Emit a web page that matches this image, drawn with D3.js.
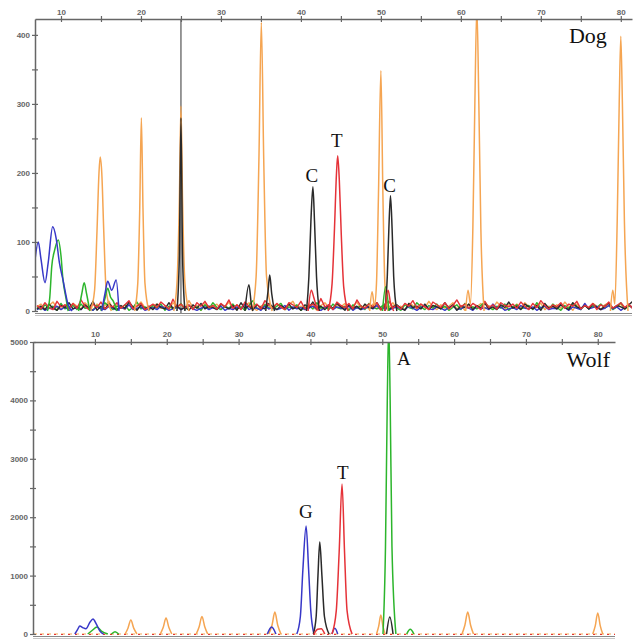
<!DOCTYPE html>
<html>
<head>
<meta charset="utf-8">
<script src="https://cdn.jsdelivr.net/npm/d3@7"></script>
<style>
	body { margin: 0; background: #fff; }
	svg { display: block; }
	.tick text { font-family: "Liberation Sans", Arial, sans-serif; font-size: 8px; font-weight: bold; fill: #666; }
	.tick line, .domain { stroke: #666; }
	.lbl { font-family: "Liberation Serif", "Times New Roman", serif; fill: #111; }
</style>
</head>
<body>
<div id="viz"></div>
<script>
// ---- axis ticks ----
const xMajor = [10, 20, 30, 40, 50, 60, 70, 80];
const xMinor = [15, 25, 35, 45, 55, 65, 75];
const dogYMajor = [0, 100, 200, 300, 400];
const dogYMinor = [50, 150, 250, 350];
const wolfYMajor = [0, 1000, 2000, 3000, 4000, 5000];
const wolfYMinor = [500, 1500, 2500, 3500, 4500];

// ---- Dog: peaks, [position, height] ----
const dogOrange = [
	[[13.7, 0], [14.2, 30], [14.5, 115], [14.75, 200], [14.9, 223], [15.1, 200], [15.35, 115], [15.65, 30], [16.3, 0]],
	[[19.2, 0], [19.6, 40], [19.85, 150], [20.05, 280], [20.25, 150], [20.5, 40], [21.0, 0]],
	[[24.1, 0], [24.5, 40], [24.8, 160], [25.0, 297], [25.2, 160], [25.5, 40], [26.0, 0]],
	[[33.9, 0], [34.4, 50], [34.75, 220], [35.05, 418], [35.35, 220], [35.7, 50], [36.4, 0]],
	[[48.6, 0], [48.9, 28], [49.2, 8], [49.45, 40], [49.7, 170], [50.0, 348], [50.25, 170], [50.5, 40], [50.9, 0]],
	[[60.6, 0], [60.9, 30], [61.2, 10], [61.5, 120], [61.75, 300], [62.0, 440], [62.25, 300], [62.5, 120], [62.9, 0]],
	[[78.7, 0], [79.0, 30], [79.25, 10], [79.55, 130], [79.8, 300], [80.0, 398], [80.2, 300], [80.45, 130], [80.9, 0]]
];
const dogBlack = [
	[[24.5, 0], [24.8, 80], [25.0, 280], [25.2, 80], [25.5, 0]],
	[[33.0, 0], [33.5, 38], [33.8, 10], [34.0, 0]],
	[[35.6, 0], [35.9, 30], [36.1, 52], [36.35, 25], [36.7, 0]],
	[[40.7, 0], [41.0, 50], [41.25, 130], [41.5, 180], [41.7, 130], [41.95, 50], [42.3, 0]],
	[[50.5, 0], [50.8, 50], [51.0, 120], [51.2, 167], [51.4, 120], [51.6, 50], [52.0, 0]]
];
const dogRed = [
	[[40.9, 0], [41.3, 30], [41.6, 20], [41.9, 8], [42.2, 0]],
	[[43.4, 0], [43.9, 40], [44.2, 120], [44.45, 200], [44.6, 225], [44.8, 190], [45.05, 110], [45.35, 35], [45.9, 0]],
	[[50.5, 0], [50.9, 30], [51.2, 12], [51.6, 0]]
];
const dogBlue = [
	[[6.75, 74], [7.16, 100], [7.5, 75], [8.0, 41], [8.4, 70], [8.96, 122], [9.4, 105], [9.8, 70], [10.25, 45], [10.9, 9], [11.4, 0]],
	[[15.1, 0], [15.5, 25], [15.84, 43], [16.34, 30], [16.9, 45], [17.25, 0]]
];
const dogGreen = [
	[[8.3, 0], [8.6, 20], [8.84, 64], [9.2, 88], [9.66, 103], [10.0, 80], [10.25, 45], [10.6, 20], [10.9, 0]],
	[[12.2, 0], [12.6, 25], [12.9, 41], [13.2, 25], [13.6, 0]],
	[[15.0, 0], [15.5, 18], [15.84, 33], [16.2, 20], [16.5, 15], [17.0, 0]],
	[[50.2, 0], [50.6, 35], [51.0, 0]]
];

// Dog baseline noise, one value every half unit from 7
const noiseStart = 7;
const noiseStep = 0.5;
const dogNoiseOrange = [6,10,3,8,13,5,2,9,4,11,7,3,12,6,1,10,5,8,14,3,9,6,2,11,4,7,13,5,1,8,
	10,4,7,2,12,6,9,3,15,5,8,1,11,4,7,10,3,6,13,2,9,5,8,12,4,1,7,10,3,6,
	11,5,2,9,14,4,7,3,10,6,1,8,12,5,3,9,6,11,2,7,13,4,8,3,10,6,1,9,5,12,
	4,7,2,11,8,3,10,5,14,6,2,9,4,7,12,3,8,1,10,5,6,11,3,8,4,13,7,2,9,5,
	10,4,12,6,3,8,11,2,7,5,9,4,13,6,1,10,3,8,5,11,7,2,9,12,4,6,10,3,8,6];
const dogNoiseGreen = [5,2,9,4,7,1,11,3,6,8,2,10,4,5,1,8,3,12,6,2,7,4,9,1,5,13,3,6,2,8,
	4,10,1,7,3,5,11,2,8,4,6,1,9,3,12,5,2,7,4,10,3,6,1,8,15,4,2,9,5,3,
	7,11,2,6,4,9,1,5,8,3,12,4,6,2,10,5,3,7,1,9,4,8,2,11,5,3,6,10,2,7,
	4,1,9,5,3,12,6,2,8,4,10,3,7,1,5,9,2,11,4,6,3,8,13,5,2,7,4,10,1,6,
	9,3,5,8,2,12,4,7,3,10,5,1,8,4,11,6,2,9,3,7,5,10,4,8,2,6,12,3,7,5];
const dogNoiseBlue = [2,5,1,4,3,7,2,6,1,3,5,2,8,4,1,6,3,2,7,4,1,5,3,9,2,4,6,1,3,5,
	2,7,4,1,3,6,2,5,8,3,1,4,6,2,5,3,7,1,4,2,6,3,10,2,5,4,1,7,3,5,
	2,4,8,1,6,3,5,2,4,7,3,1,5,9,2,6,4,3,7,1,5,2,4,6,3,8,2,5,1,4,
	6,3,2,7,4,1,5,9,3,2,6,4,1,5,8,2,3,6,4,1,7,3,5,2,10,4,6,1,3,5,
	2,8,4,3,6,1,5,7,2,4,3,9,5,1,6,4,2,11,3,5,7,2,4,8,3,6,1,5,9,4];
const dogNoiseBlack = [3,7,2,10,4,1,8,5,12,3,6,2,9,4,14,1,7,3,11,5,2,8,4,13,6,1,9,3,7,2,
	10,5,3,12,4,8,2,6,1,9,4,11,3,7,5,2,10,6,3,8,1,12,4,7,2,9,5,3,11,6,
	2,8,4,10,3,6,1,9,5,13,3,7,2,8,4,11,6,1,9,3,7,2,10,5,4,12,3,8,2,6,
	9,4,1,11,5,7,3,10,2,8,6,3,12,4,9,1,7,5,10,2,8,4,11,3,6,2,9,5,13,4,
	7,2,10,6,3,8,1,11,4,7,3,9,5,2,12,6,4,8,3,10,5,2,7,11,4,8,6,3,9,14];
const dogNoiseRed = [8,3,12,5,2,14,6,9,3,11,4,16,7,2,10,5,13,3,8,6,12,4,9,15,3,7,11,2,6,10,
	5,13,8,3,17,6,10,4,9,2,12,7,14,5,8,3,11,6,16,4,9,2,13,7,5,10,3,15,8,4,
	11,6,2,12,9,5,14,3,7,10,4,18,6,9,2,13,8,5,11,3,16,7,4,10,6,12,2,9,14,5,
	8,3,11,7,15,4,10,6,2,13,9,5,12,3,8,16,6,10,4,11,7,2,14,5,9,3,12,8,6,10,
	4,13,7,2,11,5,15,8,3,9,6,12,4,10,7,14,3,8,5,11,2,9,6,13,4,8,12,5,10,3];

const dogCursor = 25;
const dogLabels = [["C", 41.375, 187], ["T", 44.5, 238], ["C", 51.1, 172]];
const dogTitle = ["Dog", 78.25, 388];

// ---- Wolf ----
const wolfOrange = [
	[[14.2, 0], [14.6, 100], [15.0, 240], [15.4, 100], [15.85, 0]],
	[[19.1, 0], [19.5, 110], [19.9, 274], [20.3, 110], [20.7, 0]],
	[[24.1, 0], [24.5, 120], [24.9, 300], [25.3, 120], [25.7, 0]],
	[[34.2, 0], [34.65, 150], [35.05, 376], [35.45, 150], [35.9, 0]],
	[[49.2, 0], [49.5, 130], [49.8, 325], [50.1, 130], [50.4, 0]],
	[[61.1, 0], [61.5, 150], [61.9, 375], [62.3, 150], [62.7, 0]],
	[[79.3, 0], [79.65, 140], [80.0, 360], [80.35, 140], [80.7, 0]]
];
const wolfBlue = [
	[[7.2, 0], [7.6, 80], [7.9, 137], [8.3, 110], [8.75, 90], [9.3, 200], [9.73, 256], [10.2, 170], [10.7, 50], [11.2, 0]],
	[[34.0, 0], [34.6, 120], [35.2, 0]],
	[[38.1, 0], [38.6, 300], [38.95, 1100], [39.4, 1848], [39.75, 1100], [40.05, 400], [40.5, 0]],
	[[43.0, 0], [43.4, 100], [43.8, 0]]
];
const wolfBlack = [
	[[40.4, 0], [40.8, 300], [41.05, 1000], [41.3, 1574], [41.6, 1000], [41.95, 300], [42.6, 0]],
	[[50.6, 0], [51.05, 290], [51.5, 0]]
];
const wolfRed = [
	[[40.5, 0], [41.0, 80], [41.5, 90], [42.0, 0]],
	[[43.0, 0], [43.6, 400], [44.0, 1400], [44.4, 2567], [44.75, 1400], [45.1, 400], [45.8, 0]]
];
const wolfGreen = [
	[[9.0, 0], [9.6, 60], [10.3, 120], [10.9, 50], [11.8, 0]],
	[[12.3, 0], [12.8, 40], [13.3, 0]],
	[[50.1, 0], [50.45, 1500], [50.7, 4000], [50.9, 5300], [51.1, 4000], [51.35, 1500], [51.9, 0]],
	[[53.4, 0], [53.9, 80], [54.4, 0]]
];
const wolfLabels = [["G", 39.37, 1985], ["T", 44.5, 2652], ["A", 53.0, 4603]];
const wolfTitle = ["Wolf", 81.7, 4569];

const colors = {
	orange: '#f5a552',
	green: '#2cb52c',
	blue: '#3737c8',
	black: '#2a2a2a',
	red: '#e53238'
};

let svg = d3.select('#viz').append('svg')
	.attr('width', 644)
	.attr('height', 642);

function drawPanel(p) {
	let x = d3.scaleLinear().domain(p.xDomain).range([p.left, p.right]);
	let y = d3.scaleLinear().domain(p.yDomain).range([p.bottom, p.top]);

	let g = svg.append('g');

	g.append('clipPath').attr('id', p.id + '-clip')
		.append('rect')
		.attr('x', p.left)
		.attr('y', p.top)
		.attr('width', p.right - p.left)
		.attr('height', p.bottom - p.top + 2);

	// frame line under the traces
	g.append('line')
		.attr('x1', p.left).attr('x2', p.right)
		.attr('y1', p.bottom + 2.5).attr('y2', p.bottom + 2.5)
		.attr('stroke', '#888').attr('stroke-width', 1.2);
	g.append('line')
		.attr('x1', p.left).attr('x2', p.right)
		.attr('y1', p.bottom + 4.5).attr('y2', p.bottom + 4.5)
		.attr('stroke', '#c8c8c8').attr('stroke-width', 1);

	let plot = g.append('g').attr('clip-path', `url(#${p.id}-clip)`);

	let line = d3.line()
		.x(d => x(d[0]))
		.y(d => y(d[1]));

	let peakLine = d3.line()
		.curve(d3.curveMonotoneX)
		.x(d => x(d[0]))
		.y(d => y(d[1]));

	if (p.cursor != null) {
		plot.append('line')
			.attr('x1', x(p.cursor)).attr('x2', x(p.cursor))
			.attr('y1', p.top).attr('y2', p.bottom + 2)
			.attr('stroke', '#555').attr('stroke-width', 1.2);
	}

	for (let b of p.baselines || []) {
		plot.append('line')
			.attr('x1', p.left).attr('x2', p.right)
			.attr('y1', y(0) + b.dy).attr('y2', y(0) + b.dy)
			.attr('stroke', colors[b.color])
			.attr('stroke-width', 1)
			.attr('stroke-dasharray', b.dash);
	}

	for (let n of p.noise || []) {
		let pts = n.values.map((v, i) => [noiseStart + i * noiseStep, v]);
		plot.append('path')
			.datum(pts)
			.attr('fill', 'none')
			.attr('stroke', colors[n.color])
			.attr('stroke-width', 1.4)
			.attr('stroke-linejoin', 'round')
			.attr('d', line);
	}

	for (let t of p.traces) {
		for (let pk of t.peaks) {
			plot.append('path')
				.datum(pk)
				.attr('fill', 'none')
				.attr('stroke', colors[t.color])
				.attr('stroke-width', t.color == 'orange' ? 1.5 : 1.5)
				.attr('stroke-linejoin', 'round')
				.attr('d', peakLine);
		}
	}

	// top axis, ticks cross the line
	g.append('g')
		.attr('transform', `translate(0,${p.top})`)
		.call(d3.axisTop(x).tickValues(xMajor).tickSize(3).tickSizeOuter(0).tickPadding(p.xPad).tickFormat(d3.format('d')));
	g.append('g')
		.attr('transform', `translate(0,${p.top})`)
		.call(d3.axisTop(x).tickValues(xMinor).tickSize(3).tickSizeOuter(0).tickFormat(''))
		.call(a => a.select('.domain').remove());
	g.append('g')
		.attr('transform', `translate(0,${p.top})`)
		.call(d3.axisBottom(x).tickValues(xMajor.concat(xMinor)).tickSize(3).tickFormat(''))
		.call(a => a.select('.domain').remove());

	// left axis
	g.append('g')
		.attr('transform', `translate(${p.left},0)`)
		.call(d3.axisLeft(y).tickValues(p.yMajor).tickSize(3).tickSizeOuter(0).tickPadding(2).tickFormat(d3.format('d')));
	g.append('g')
		.attr('transform', `translate(${p.left},0)`)
		.call(d3.axisLeft(y).tickValues(p.yMinor).tickSize(3).tickFormat(''))
		.call(a => a.select('.domain').remove());
	g.append('g')
		.attr('transform', `translate(${p.left},0)`)
		.call(d3.axisRight(y).tickValues(p.yMajor.concat(p.yMinor)).tickSize(3).tickFormat(''))
		.call(a => a.select('.domain').remove());

	g.selectAll('.domain').attr('stroke-width', 1.5);
	g.selectAll('.tick line').attr('stroke-width', 1.2);

	g.append('g').selectAll('text')
		.data(p.labels)
		.join('text')
		.attr('class', 'lbl')
		.attr('x', d => x(d[1]))
		.attr('y', d => y(d[2]))
		.attr('text-anchor', 'middle')
		.attr('font-size', 19)
		.text(d => d[0]);

	g.append('text')
		.attr('class', 'lbl')
		.attr('x', x(p.title[1]))
		.attr('y', y(p.title[2]))
		.attr('text-anchor', 'end')
		.attr('font-size', 22)
		.text(p.title[0]);
}

drawPanel({
	id: 'dog',
	xDomain: [6.75, 81.4], left: 35, right: 632,
	yDomain: [0, 423], top: 19, bottom: 311,
	yMajor: dogYMajor, yMinor: dogYMinor, xPad: 1,
	cursor: dogCursor,
	noise: [
		{ color: 'orange', values: dogNoiseOrange },
		{ color: 'green', values: dogNoiseGreen },
		{ color: 'blue', values: dogNoiseBlue },
		{ color: 'black', values: dogNoiseBlack },
		{ color: 'red', values: dogNoiseRed }
	],
	traces: [
		{ color: 'orange', peaks: dogOrange },
		{ color: 'green', peaks: dogGreen },
		{ color: 'blue', peaks: dogBlue },
		{ color: 'black', peaks: dogBlack },
		{ color: 'red', peaks: dogRed }
	],
	labels: dogLabels,
	title: dogTitle
});

drawPanel({
	id: 'wolf',
	xDomain: [1.38, 82.4], left: 33, right: 615,
	yDomain: [0, 5000], top: 342, bottom: 634,
	yMajor: wolfYMajor, yMinor: wolfYMinor, xPad: 2,
	baselines: [
		{ color: 'orange', dash: '4,3', dy: 0 },
		{ color: 'red', dash: '2,5', dy: 0.5 }
	],
	traces: [
		{ color: 'orange', peaks: wolfOrange },
		{ color: 'green', peaks: wolfGreen },
		{ color: 'blue', peaks: wolfBlue },
		{ color: 'black', peaks: wolfBlack },
		{ color: 'red', peaks: wolfRed }
	],
	labels: wolfLabels,
	title: wolfTitle
});
</script>
</body>
</html>
